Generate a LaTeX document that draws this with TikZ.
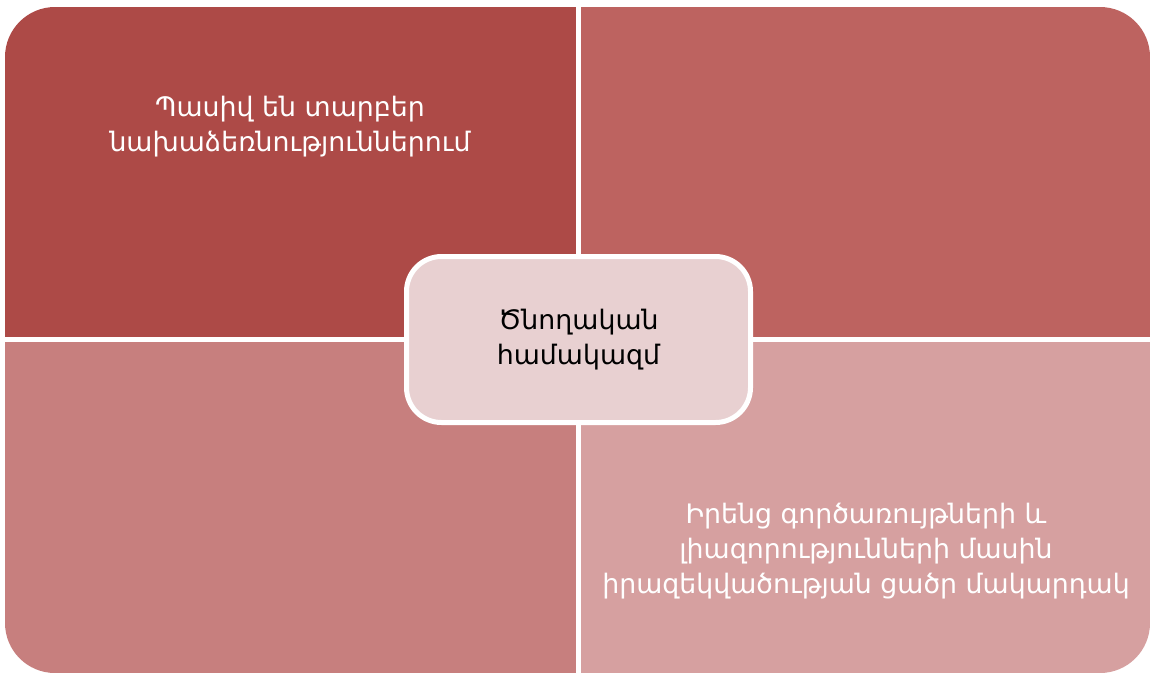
\documentclass[tikz,border=0pt]{standalone}
\usepackage{fontspec}
\setmainfont{DejaVu Sans}
\definecolor{quadA}{RGB}{173,74,71}
\definecolor{quadB}{RGB}{189,99,96}
\definecolor{quadC}{RGB}{199,127,126}
\definecolor{quadD}{RGB}{214,160,160}
\definecolor{hubfill}{RGB}{232,208,209}
\begin{document}
\begin{tikzpicture}[x=1pt,y=-1pt,
    quadtext/.style={text=white,align=center,font=\fontsize{26.8}{35}\selectfont},
    hub/.style={draw=white,line width=5pt,fill=hubfill,rounded corners=35pt,
      minimum width=344pt,minimum height=166pt,align=center,
      font=\fontsize{26.8}{35}\selectfont}]
  \useasboundingbox (0,0) rectangle (1151,675);
  \def\gap{2.5}% half of the white gap between the quadrants
  \def\midx{578.5}
  \def\midy{339.5}
  \begin{scope}
    \clip[rounded corners=50pt] (5,7) rectangle (1150,673);
    % the four quadrants
    \fill[quadA] (5,7) rectangle ({\midx-\gap},{\midy-\gap});
    \fill[quadB] ({\midx+\gap},7) rectangle (1150,{\midy-\gap});
    \fill[quadC] (5,{\midy+\gap}) rectangle ({\midx-\gap},673);
    \fill[quadD] ({\midx+\gap},{\midy+\gap}) rectangle (1150,673);
  \end{scope}
  % texts of the quadrants
  \node[quadtext] (passive) at (290,127) {Պասիվ են տարբեր\\նախաձեռնություններում};
  \node[quadtext] (awareness) at (866,551) {Իրենց գործառույթների և\\լիազորությունների մասին\\իրազեկվածության ցածր մակարդակ};
  % the hub
  \node[hub] (parents) at (\midx,\midy) {Ծնողական\\համակազմ};
\end{tikzpicture}
\end{document}
